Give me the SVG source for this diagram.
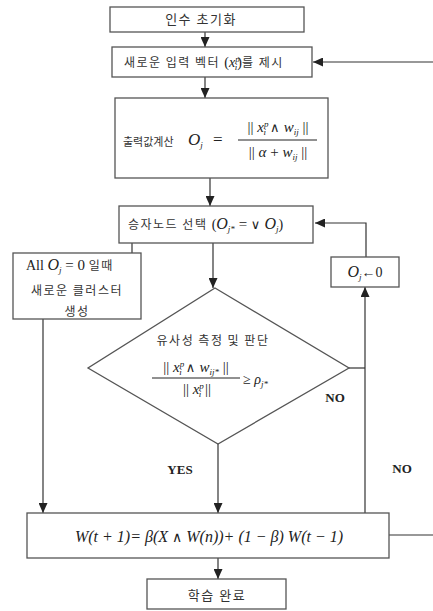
<svg xmlns="http://www.w3.org/2000/svg" width="433" height="611" viewBox="0 0 433 611">
<defs>
<marker id="ah" markerWidth="10" markerHeight="9" refX="10" refY="4.5" orient="auto" markerUnits="userSpaceOnUse">
<path d="M0,0 L10,4.5 L0,9 Z" fill="#222"/>
</marker>
<style>
.box{fill:#fff;stroke:#555;stroke-width:1.3}
.ln{fill:none;stroke:#333;stroke-width:1.2}
.ko{font-family:"Noto Sans CJK KR","Noto Sans",sans-serif;fill:#333;letter-spacing:1.5px}
.m{font-family:"Liberation Serif",serif;font-style:italic;fill:#222;letter-spacing:0}
.mr{font-family:"Liberation Serif",serif;font-style:normal;fill:#222;letter-spacing:0}
.op{font-family:"DejaVu Serif",serif;font-style:normal;font-weight:normal;fill:#222;letter-spacing:0}
.lbl{font-family:"Liberation Serif",serif;font-weight:bold;fill:#222}
</style>
</defs>
<rect width="433" height="611" fill="#fff"/>
<g id="connectors">
<line class="ln" x1="205" y1="32" x2="205" y2="47" marker-end="url(#ah)"/>
<line class="ln" x1="433" y1="62" x2="313" y2="62" marker-end="url(#ah)"/>
<line class="ln" x1="205" y1="77" x2="205" y2="98" marker-end="url(#ah)"/>
<line class="ln" x1="210" y1="178" x2="210" y2="206" marker-end="url(#ah)"/>
<line class="ln" x1="213" y1="243" x2="213" y2="288" marker-end="url(#ah)"/>
<line class="ln" x1="132" y1="243" x2="132" y2="253"/>
<line class="ln" x1="43" y1="319" x2="43" y2="513" marker-end="url(#ah)"/>
<line class="ln" x1="218" y1="444" x2="218" y2="513" marker-end="url(#ah)"/>
<polyline class="ln" points="349,368 365,368"/>
<line class="ln" x1="365" y1="513" x2="365" y2="287" marker-end="url(#ah)"/>
<polyline class="ln" points="366,257 366,223 315,223" marker-end="url(#ah)"/>
<line class="ln" x1="389" y1="535" x2="433" y2="535"/>
<line class="ln" x1="218" y1="558" x2="218" y2="579" marker-end="url(#ah)"/>
<text class="lbl" font-size="13" x="335" y="402" text-anchor="middle">NO</text>
<text class="lbl" font-size="13" x="402" y="473" text-anchor="middle">NO</text>
<text class="lbl" font-size="13" x="180" y="474" text-anchor="middle">YES</text>
</g>
<g id="n1">
<rect class="box" x="110" y="7" width="194" height="25"/>
<text class="ko" x="201" y="24" text-anchor="middle" font-size="13">인수 초기화</text>
</g>
<g id="n2">
<rect class="box" x="112" y="47" width="200" height="30"/>
<text class="ko" x="124" y="67" font-size="12">새로운 입력 벡터 <tspan class="mr" font-size="14">(</tspan><tspan class="m" font-size="14">x</tspan><tspan class="m" font-size="9" dy="-5">p</tspan><tspan class="m" font-size="9" dx="-5" dy="8">i</tspan><tspan class="mr" font-size="14" dy="-3">)</tspan>를 제시</text>
</g>
<g id="n3">
<rect class="box" x="115" y="98" width="213" height="80"/>
<text class="ko" x="123" y="146" font-size="11" style="letter-spacing:0">출력값계산</text>
<text class="m" x="188" y="145" font-size="17">O<tspan font-size="9" dy="3">j</tspan></text>
<text class="mr" x="213" y="145" font-size="17">=</text>
<text class="m" x="278" y="132" text-anchor="middle" font-size="15"><tspan class="mr">||</tspan> x<tspan font-size="9" dy="-5">p</tspan><tspan font-size="9" dx="-5" dy="8">i</tspan><tspan dy="-3" class="op" font-size="13"> ∧ </tspan>w<tspan font-size="9" dy="3">ij</tspan><tspan dy="-3" class="mr"> ||</tspan></text>
<line x1="238" y1="140" x2="317" y2="140" stroke="#222" stroke-width="1"/>
<text class="m" x="278" y="157" text-anchor="middle" font-size="15"><tspan class="mr">|| </tspan>α<tspan class="mr"> + </tspan>w<tspan font-size="9" dy="3">ij</tspan><tspan dy="-3" class="mr"> ||</tspan></text>
</g>
<g id="n4">
<rect class="box" x="119" y="206" width="194" height="37"/>
<text class="ko" x="128" y="229" font-size="12">승자노드 선택 <tspan class="mr" font-size="14">(</tspan><tspan class="m" font-size="16">O</tspan><tspan class="m" font-size="9" dy="3">j*</tspan><tspan class="mr" font-size="15" dy="-3"> = </tspan><tspan class="op" font-size="13">∨ </tspan><tspan class="m" font-size="16">O</tspan><tspan class="m" font-size="9" dy="3">j</tspan><tspan class="mr" font-size="14" dy="-3">)</tspan></text>
</g>
<g id="n5">
<rect class="box" x="13" y="253" width="128" height="66"/>
<text class="mr" x="26" y="270" font-size="14">All <tspan class="m" font-size="16">O</tspan><tspan class="m" font-size="9" dy="3">j</tspan><tspan dy="-3" font-size="15"> = 0 </tspan><tspan class="ko" font-size="12">일때</tspan></text>
<text class="ko" x="77" y="295" text-anchor="middle" font-size="12">새로운 클러스터</text>
<text class="ko" x="77" y="316" text-anchor="middle" font-size="12">생성</text>
</g>
<g id="n6">
<polygon class="box" points="215,288 349,368 218,444 88,368"/>
<text class="ko" x="213" y="345" text-anchor="middle" font-size="12">유사성 측정 및 판단</text>
<text class="m" x="196" y="372" text-anchor="middle" font-size="15"><tspan class="mr">||</tspan> x<tspan font-size="9" dy="-5">p</tspan><tspan font-size="9" dx="-5" dy="8">i</tspan><tspan dy="-3" class="op" font-size="13"> ∧ </tspan>w<tspan font-size="9" dy="3">ij*</tspan><tspan dy="-3" class="mr"> ||</tspan></text>
<line x1="152" y1="378" x2="240" y2="378" stroke="#222" stroke-width="1"/>
<text class="m" x="197" y="394" text-anchor="middle" font-size="15"><tspan class="mr">||</tspan> x<tspan font-size="9" dy="-5">p</tspan><tspan font-size="9" dx="-5" dy="8">i</tspan><tspan dy="-3" class="mr"> ||</tspan></text>
<text class="mr" x="243" y="384" font-size="14">≥ <tspan class="m">ρ</tspan><tspan class="m" font-size="9" dy="3">j*</tspan></text>
</g>
<g id="n7">
<rect class="box" x="331" y="257" width="68" height="30"/>
<text class="m" x="365" y="277" text-anchor="middle" font-size="16">O<tspan font-size="9" dy="3">j</tspan><tspan class="mr" font-size="14" dy="-3">←0</tspan></text>
</g>
<g id="n8">
<rect class="box" x="27" y="513" width="362" height="45"/>
<text class="m" x="209" y="542" text-anchor="middle" font-size="16">W(t + 1)= β(X <tspan class="op" font-size="14">∧</tspan> W(n))+ (1 − β) W(t − 1)</text>
</g>
<g id="n9">
<rect class="box" x="147" y="579" width="139" height="30"/>
<text class="ko" x="217" y="600" text-anchor="middle" font-size="13">학습 완료</text>
</g>
</svg>
